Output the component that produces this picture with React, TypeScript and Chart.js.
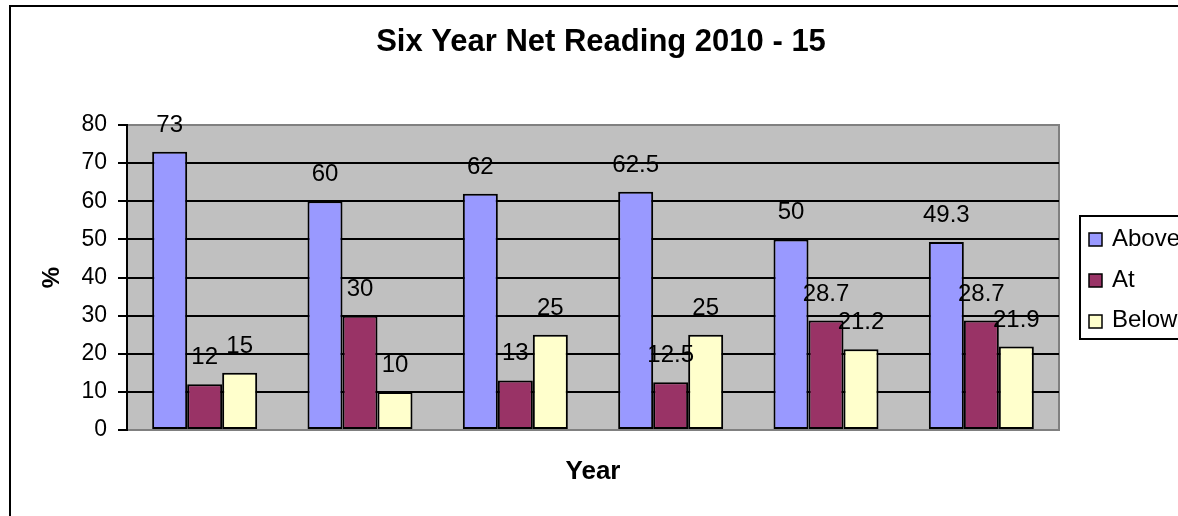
import React, { useEffect, useRef } from "react";
import { Chart, registerables } from "chart.js";

Chart.register(...registerables);

const categories = ["2010", "2011", "2012", "2013", "2014", "2015"];
const seriesNames = ["Above", "At", "Below"];
const aboveValues = [73, 60, 62, 62.5, 50, 49.3];
const atValues = [12, 30, 13, 12.5, 28.7, 28.7];
const belowValues = [15, 10, 25, 25, 21.2, 21.9];
const seriesColors = ["#9999FF", "#993366", "#FFFFCC"];
const yMin = 0;
const yMax = 80;
const yStep = 10;
const titleText = "Six Year Net Reading 2010 - 15";
const xTitle = "Year";
const yTitle = "%";

const FONT = "'Liberation Sans', Arial, Helvetica, sans-serif";

const framePlugin = {
  id: "frame",
  beforeDraw(chart: any) {
    const ctx = chart.ctx;
    const { left, top, right, bottom } = chart.chartArea;
    ctx.save();
    ctx.fillStyle = "#FFFFFF";
    ctx.fillRect(0, 0, chart.width, chart.height);
    // outer chart border
    ctx.strokeStyle = "#000000";
    ctx.lineWidth = 2;
    ctx.strokeRect(10, 6, 2000, 2000);
    // plot area
    ctx.fillStyle = "#C0C0C0";
    ctx.fillRect(left, top, right - left, bottom - top);
    ctx.strokeStyle = "#808080";
    ctx.lineWidth = 2;
    ctx.strokeRect(left, top, right - left, bottom - top);
    // title
    ctx.fillStyle = "#000000";
    ctx.font = `bold 31px ${FONT}`;
    ctx.textAlign = "center";
    ctx.textBaseline = "alphabetic";
    ctx.fillText(titleText, 601, 51);
    ctx.restore();
  },
  afterDatasetsDraw(chart: any) {
    const ctx = chart.ctx;
    ctx.save();
    ctx.fillStyle = "#000000";
    ctx.font = `24px ${FONT}`;
    ctx.textAlign = "center";
    ctx.textBaseline = "alphabetic";
    chart.data.datasets.forEach((ds: any, di: number) => {
      const meta = chart.getDatasetMeta(di);
      meta.data.forEach((el: any, i: number) => {
        ctx.fillText(String(ds.data[i]), el.x, el.y - 20);
      });
    });
    ctx.restore();
  },
  afterDraw(chart: any) {
    const ctx = chart.ctx;
    ctx.save();
    // legend box
    ctx.strokeStyle = "#000000";
    ctx.lineWidth = 2;
    ctx.strokeRect(1080, 216, 400, 123);
    ctx.font = `24px ${FONT}`;
    ctx.textAlign = "left";
    ctx.textBaseline = "alphabetic";
    chart.data.datasets.forEach((ds: any, i: number) => {
      const sy = 233 + 41 * i;
      ctx.fillStyle = ds.backgroundColor;
      ctx.fillRect(1089, sy, 13, 13);
      ctx.lineWidth = 1.5;
      ctx.strokeStyle = "#000000";
      ctx.strokeRect(1089, sy, 13, 13);
      ctx.fillStyle = "#000000";
      ctx.fillText(ds.label, 1112, 246 + 40.5 * i);
    });
    ctx.restore();
  },
};

export default function App() {
  const ref = useRef<HTMLCanvasElement | null>(null);

  useEffect(() => {
    if (!ref.current) return;
    const valueSets = [aboveValues, atValues, belowValues];
    const chart = new Chart(ref.current, {
      type: "bar",
      data: {
        labels: categories,
        datasets: seriesNames.map((name, i) => ({
          label: name,
          data: valueSets[i],
          backgroundColor: seriesColors[i],
          borderColor: "#000000",
          borderWidth: 2,
          borderSkipped: false,
          categoryPercentage: 0.676,
          barPercentage: 1,
        })),
      },
      options: {
        responsive: false,
        animation: false,
        devicePixelRatio: 1,
        layout: { padding: { top: 125, right: 119, left: 0, bottom: 0 } },
        plugins: {
          legend: { display: false },
          title: { display: false },
          tooltip: { enabled: false },
        },
        scales: {
          x: {
            ticks: { display: false },
            grid: { display: false },
            border: { display: false },
            title: {
              display: true,
              text: xTitle,
              color: "#000000",
              font: { family: FONT, size: 26, weight: "bold" },
              padding: { top: 0, bottom: 28.4 },
            },
            afterFit: (s: any) => {
              s.height = 86;
            },
          },
          y: {
            min: yMin,
            max: yMax,
            ticks: {
              stepSize: yStep,
              color: "#000000",
              font: { family: FONT, size: 23 },
              padding: 11,
            },
            grid: {
              color: (c: any) =>
                c.tick && (c.tick.value === yMin || c.tick.value === yMax)
                  ? "#808080"
                  : "#000000",
              lineWidth: 2,
              tickLength: 9,
              tickColor: "#000000",
              tickWidth: 2,
            },
            border: { display: true, color: "#000000", width: 2 },
            title: {
              display: true,
              text: yTitle,
              color: "#000000",
              font: { family: FONT, size: 24, weight: "bold" },
              padding: { top: 37.6, bottom: 0 },
            },
            afterFit: (s: any) => {
              s.width = 127;
            },
          },
        },
      } as any,
      plugins: [framePlugin],
    });
    return () => chart.destroy();
  }, []);

  return (
    <div style={{ position: "fixed", left: 0, top: 0, width: 1178, height: 516 }}>
      <canvas ref={ref} width={1178} height={516} />
    </div>
  );
}
